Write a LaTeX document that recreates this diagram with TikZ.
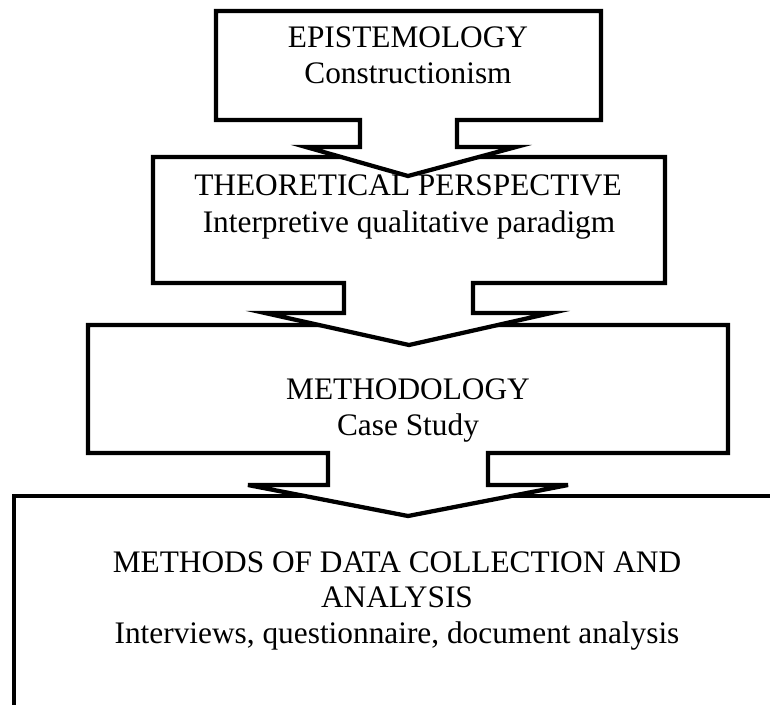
\documentclass[tikz,border=0pt]{standalone}
\usepackage{fontspec}
\setmainfont{Liberation Serif}
\tikzset{
  flowbox/.style={draw=black, fill=white, line width=3.2pt, line join=miter},
  boxtext/.style={anchor=base, inner sep=0pt, font=\fontsize{23.5}{28}\selectfont}
}
\begin{document}
\begin{tikzpicture}[x=0.75pt, y=-0.75pt]
  \clip (0,0) rectangle (770,704);
  % methods of data collection (runs off the page)
  \draw[flowbox] (14,820) -- (14,496) -- (790,496) -- (790,820);
  % methodology
  \draw[flowbox] (88,325) -- (728,325) -- (728,453) -- (488,453) -- (488,485)
    -- (568,485) -- (408,516) -- (248,485) -- (328,485) -- (328,453) -- (88,453) -- cycle;
  % theoretical perspective
  \draw[flowbox] (153,157) -- (665,157) -- (665,283) -- (473,283) -- (473,313)
    -- (551,313) -- (409,345) -- (265,313) -- (344,313) -- (344,283) -- (153,283) -- cycle;
  % epistemology
  \draw[flowbox] (216,11) -- (601,11) -- (601,120) -- (457,120) -- (457,147)
    -- (516,147) -- (408,176) -- (306,147) -- (360,147) -- (360,120) -- (216,120) -- cycle;

  \node[boxtext] (epist) at (408,47) {EPISTEMOLOGY};
  \node[boxtext] (epist-sub) at (408,83) {Constructionism};
  \node[boxtext] (theory) at (408,195) {THEORETICAL PERSPECTIVE};
  \node[boxtext] (theory-sub) at (409,232) {Interpretive qualitative paradigm};
  \node[boxtext] (method) at (408,399) {METHODOLOGY};
  \node[boxtext] (method-sub) at (408,435) {Case Study};
  \node[boxtext] (data) at (397,572) {METHODS OF DATA COLLECTION AND};
  \node[boxtext] (data-2) at (397,607) {ANALYSIS};
  \node[boxtext] (data-sub) at (397,643) {Interviews, questionnaire, document analysis};
\end{tikzpicture}
\end{document}
